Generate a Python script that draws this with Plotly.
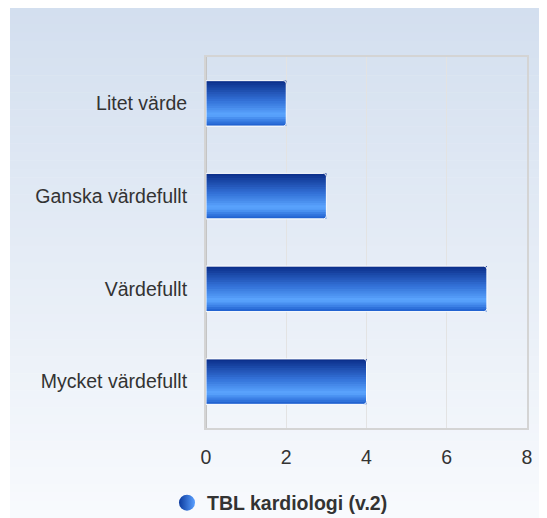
import plotly.graph_objects as go

categories = ["Mycket värdefullt", "Värdefullt", "Ganska värdefullt", "Litet värde"]
values = [4, 7, 3, 2]
series_name = "TBL kardiologi (v.2)"
x_ticks = [0, 2, 4, 6, 8]


def hex_to_rgb(h):
    h = h.lstrip("#")
    return [int(h[i:i + 2], 16) for i in (0, 2, 4)]


def mix(stops, t):
    # stops: list of (pos, hex)
    for (p0, c0), (p1, c1) in zip(stops, stops[1:]):
        if p0 <= t <= p1:
            f = 0 if p1 == p0 else (t - p0) / (p1 - p0)
            a, b = hex_to_rgb(c0), hex_to_rgb(c1)
            return "rgb(%d,%d,%d)" % tuple(round(a[k] + (b[k] - a[k]) * f) for k in range(3))
    return stops[-1][1]


# bar gradient, bottom (0) -> top (1)
bar_stops = [(0.0, "#1c5ccc"), (0.25, "#5ca6ff"), (0.55, "#3473d9"), (1.0, "#0a2c88")]
bg_stops = [(0.0, "#d3dfef"), (1.0, "#f8fafd")]

W = 0.49
N = 20
step = W / N

fig = go.Figure()

# gradient slices, each overlaps the next one to avoid seams
for i in range(N):
    t = (i + 0.5) / N
    fig.add_trace(go.Bar(
        x=values, y=categories, orientation="h",
        width=step * (2 if i < N - 1 else 1), offset=-W / 2 + i * step,
        marker=dict(color=mix(bar_stops, t), line=dict(width=0)),
        showlegend=False, hoverinfo="skip",
    ))

# outline with rounded corners
fig.add_trace(go.Bar(
    x=values, y=categories, orientation="h", width=W,
    marker=dict(color="rgba(0,0,0,0)", line=dict(color="white", width=1), cornerradius=3),
    showlegend=False, name=series_name,
))

# legend entry
fig.add_trace(go.Scatter(
    x=[None], y=[None], mode="markers", name=series_name,
    marker=dict(symbol="circle", size=18, color="#0b3a9e",
                gradient=dict(type="horizontal", color="#5aa0ff")),
))

# background gradient bands (pixel -> paper)
L, R, T, B = 198, 20, 49, 90
fw, fh = 539, 510
pw, ph = fw - L - R, fh - T - B
bands = 60
top_px, bot_px = -1, fh
for k in range(bands):
    y0px = top_px + (bot_px - top_px) * k / bands
    y1px = top_px + (bot_px - top_px) * (k + 1) / bands + 0.5
    fig.add_shape(
        type="rect", xref="paper", yref="paper", layer="below",
        x0=(2 - L) / pw, x1=(fw + 5 - L) / pw,
        y0=(fh - B - y1px) / ph, y1=(fh - B - y0px) / ph,
        fillcolor=mix(bg_stops, k / (bands - 1)), line=dict(width=0),
    )

fig.update_layout(
    width=fw, height=fh,
    margin=dict(l=L, r=R, t=T, b=B, autoexpand=False),
    barmode="overlay",
    paper_bgcolor="white",
    plot_bgcolor="rgba(0,0,0,0)",
    font=dict(family="Liberation Sans, Arial, sans-serif", size=19.5, color="#333333"),
    xaxis=dict(
        range=[0, 8], tickvals=x_ticks, ticktext=[str(v) for v in x_ticks],
        showgrid=True, gridcolor="#e3e3e3", gridwidth=1,
        showline=True, linecolor="#d4d4d4", linewidth=2, mirror=True,
        zeroline=True, zerolinecolor="#c4c4c4", zerolinewidth=2,
        ticks="", ticklabelstandoff=11, fixedrange=True, automargin=False,
    ),
    yaxis=dict(
        categoryorder="array", categoryarray=categories,
        showgrid=False, showline=True, linecolor="#d4d4d4", linewidth=2, mirror=True,
        ticks="", ticklabelstandoff=13, fixedrange=True, automargin=False,
    ),
    legend=dict(
        orientation="h", x=(272 - L) / pw, xanchor="center",
        y=(fh - B - 495) / ph, yanchor="middle",
        font=dict(size=19.5, color="#333333", weight="bold"),
        bgcolor="rgba(0,0,0,0)",
    ),
    showlegend=True,
)

fig.write_html("out.html")
